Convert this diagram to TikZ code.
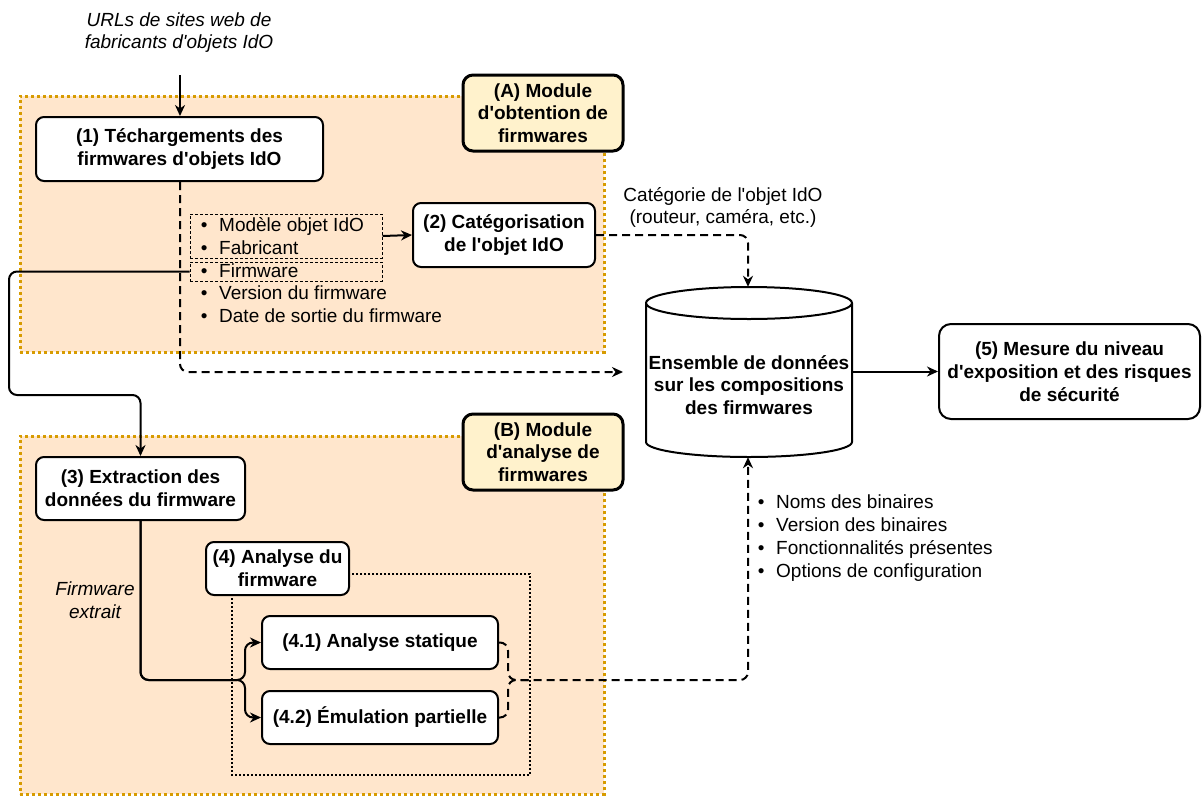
\documentclass[tikz,border=0pt]{standalone}
\usepackage{fontspec}
\setmainfont{Liberation Sans}[Ligatures=TeXOff]
\usetikzlibrary{arrows.meta}
\definecolor{regfill}{HTML}{FFE6CC}
\definecolor{regdraw}{HTML}{D79B00}
\definecolor{labfill}{HTML}{FFF2CC}
\newcommand{\bul}{\makebox[18.3pt][l]{•}}
\begin{document}
\begin{tikzpicture}[x=1pt,y=-1pt,
  txt/.style={font=\fontsize{19}{22.75}\selectfont, align=center, inner sep=0pt},
  itx/.style={txt, font=\fontsize{19}{22.75}\selectfont\itshape},
  lst/.style={font=\fontsize{19}{22.75}\selectfont, inner sep=0pt, anchor=base west},
  box/.style={draw, line width=2pt, rounded corners=8pt, fill=white, align=center, inner sep=0pt,
              font=\fontsize{19}{22.75}\selectfont\bfseries},
  lab/.style={box, fill=labfill, line width=3pt, rounded corners=10pt},
  region/.style={fill=regfill, draw=regdraw, line width=3pt, dash pattern=on 3pt off 3pt},
  dotbox/.style={draw, line width=1pt, dash pattern=on 3pt off 2pt, inner sep=0pt},
  conn/.style={line width=2pt, rounded corners=8pt, -{Stealth[length=11pt,width=10pt,inset=3.5pt]}},
  dconn/.style={conn, dash pattern=on 8pt off 5pt},
]
\useasboundingbox (0,0) rectangle (1203,796);

% regions
\node[region, minimum width=584pt, minimum height=256pt, inner sep=0pt] (regA) at (312,224) {};
\node[region, minimum width=584pt, minimum height=358pt, inner sep=0pt] (regB) at (312,615) {};

% dotted group of (4)
\draw[line width=1.8pt, dash pattern=on 2pt off 2pt] (232,574) rectangle (530,775);

% dashed bullet boxes
\node[dotbox, minimum width=192pt, minimum height=44pt] (bx1) at (286,236) {};
\node[dotbox, minimum width=192pt, minimum height=19pt] (bx2) at (286,271.5) {};

% texts
\node[itx] (urls) at (179,32.5) {URLs de sites web de\\fabricants d'objets IdO};
\node[txt] (cat) at (723,207.5) {Catégorie de l'objet IdO\\(routeur, caméra, etc.)};
\node[itx] (fx) at (95,600) {Firmware\\extrait};

\node[lst] (ba1) at (200.7,231.5) {\bul Modèle objet IdO};
\node[lst] (ba2) at (200.7,254.25) {\bul Fabricant};
\node[lst] (ba3) at (200.7,277) {\bul Firmware};
\node[lst] (ba4) at (200.7,299.75) {\bul Version du firmware};
\node[lst] (ba5) at (200.7,322.5) {\bul Date de sortie du firmware};

\node[lst] (bb1) at (757.7,508.5) {\bul Noms des binaires};
\node[lst] (bb2) at (757.7,531.5) {\bul Version des binaires};
\node[lst] (bb3) at (757.7,554.5) {\bul Fonctionnalités présentes};
\node[lst] (bb4) at (757.7,577.5) {\bul Options de configuration};

% nodes
\node[box, minimum width=287pt, minimum height=64pt] (n1) at (179.5,149) {(1) Téchargements des\\firmwares d'objets IdO};
\node[box, minimum width=182pt, minimum height=64pt] (n2) at (504,235) {(2) Catégorisation\\de l'objet IdO};
\node[box, minimum width=209pt, minimum height=63pt] (n3) at (140.5,488.5) {(3) Extraction des\\données du firmware};
\node[box, minimum width=143pt, minimum height=53pt] (n4) at (277.5,568.5) {(4) Analyse du\\firmware};
\node[box, minimum width=236pt, minimum height=53pt] (n41) at (380,642.5) {(4.1) Analyse statique};
\node[box, minimum width=236pt, minimum height=53pt] (n42) at (380,717.5) {(4.2) Émulation partielle};
\node[box, minimum width=261pt, minimum height=95pt, rounded corners=12pt] (n5) at (1069.5,371.5) {(5) Mesure du niveau\\d'exposition et des risques\\de sécurité};
\node[lab, minimum width=160pt, minimum height=76pt] (labA) at (543,113) {(A) Module\\d'obtention de\\firmwares};
\node[lab, minimum width=160pt, minimum height=76pt] (labB) at (543,452) {(B) Module\\d'analyse de\\firmwares};

% cylinder
\node[minimum width=206pt, minimum height=170pt, inner sep=0pt] (cyl) at (749,372) {};
\draw[line width=2pt, fill=white] (646,303) -- (646,442)
  arc[start angle=180, end angle=0, x radius=103, y radius=15]
  -- (852,303) arc[start angle=0, end angle=-180, x radius=103, y radius=16] -- cycle;
\draw[line width=2pt] (646,303) arc[start angle=180, end angle=0, x radius=103, y radius=16];
\node[txt, font=\fontsize{19}{22.75}\selectfont\bfseries] (cyltxt) at (749,385) {Ensemble de données\\sur les compositions\\des firmwares};

% connectors
\coordinate (urlend) at (180,75);
\coordinate (dsend) at (623,372);
\draw[conn] (urlend) -- (n1.north -| urlend);
\draw[dconn] (n1.south -| urlend) -- (180,372) -- (dsend);
\draw[conn] (bx1.east) -- (n2.west);
\draw[dconn] (n2.east) -- (748,235) -- (cyl.north -| 748,0);
\draw[conn] (bx2.west) -- (9,271.5) -- (9,395) -- (140.5,395) -- (n3.north);
\draw[conn] (cyl.east |- n5.west) -- (n5.west);
\draw[conn] (n3.south) -- (140.5,680) -- (245,680) -- (245,642.5) -- (n41.west);
\draw[conn] (n3.south) -- (140.5,680) -- (245,680) -- (245,717.5) -- (n42.west);
\draw[dconn] (n41.east) -- (508,642.5) -- (508,680) -- (748,680) -- (cyl.south -| 748,0);
\draw[line width=2pt, rounded corners=8pt, dash pattern=on 8pt off 5pt] (n42.east) -- (508,717.5) -- (508,680) -- (530,680);
\end{tikzpicture}
\end{document}
